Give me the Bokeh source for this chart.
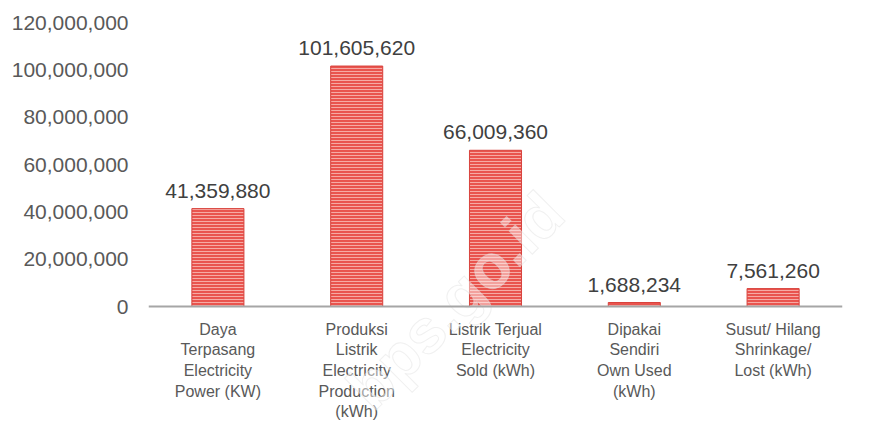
from bokeh.plotting import figure
from bokeh.models import ColumnDataSource, FixedTicker, NumeralTickFormatter, Range1d, FactorRange, Span
from bokeh.core.properties import value
from bokeh.embed import file_html
from bokeh.resources import INLINE

categories = [
    "Daya\nTerpasang\nElectricity\nPower (KW)",
    "Produksi\nListrik\nElectricity\nProduction\n(kWh)",
    "Listrik Terjual\nElectricity\nSold (kWh)",
    "Dipakai\nSendiri\nOwn Used\n(kWh)",
    "Susut/ Hilang\nShrinkage/\nLost (kWh)",
]
values = [41359880, 101605620, 66009360, 1688234, 7561260]
value_labels = ["41,359,880", "101,605,620", "66,009,360", "1,688,234", "7,561,260"]
y_ticks = [0, 20000000, 40000000, 60000000, 80000000, 100000000, 120000000]

Y_MAX = 120000000
PX_PER_UNIT = 284 / Y_MAX          # 284 px between 0 and 120,000,000
BELOW_PX = 115                     # room under the axis for the category labels
Y_MIN = -BELOW_PX / PX_PER_UNIT

src = ColumnDataSource(dict(cat=categories, val=values, lab=value_labels, zero=[0] * len(values)))

p = figure(frame_width=694, frame_height=284 + BELOW_PX,
           x_range=FactorRange(*categories, range_padding=0),
           y_range=Range1d(Y_MIN, Y_MAX), output_backend="svg", toolbar_location=None,
           min_border_left=148, min_border_right=37, min_border_top=22, min_border_bottom=0)
p.outline_line_color = None
p.grid.visible = False
p.background_fill_color = "white"
p.xaxis.visible = False

p.vbar(x="cat", top="val", width=0.375, source=src, fill_color="#e9544e",
       line_color="#d8433d", line_width=1, hatch_pattern="horizontal_line",
       hatch_color="#f6aaa4", hatch_scale=3, hatch_weight=1)

# baseline (category axis line)
p.add_layout(Span(location=0, dimension="width", line_color="#a6a6a6", line_width=2))

p.text(x="cat", y="val", text="lab", source=src, text_align="center", text_baseline="bottom",
       y_offset=-11, text_font=value("Liberation Sans"), text_font_size="21px", text_color="#404040")

# category labels below the baseline
p.text(x="cat", y="zero", text="cat", source=src, text_align="center", text_baseline="top",
       y_offset=14, text_font=value("Liberation Sans"), text_font_size="16px",
       text_color="#595959", text_line_height=1.22)

# faint watermark
p.text(x=[categories[2]], y=[0], text=["bps.go.id"], angle=0.785, text_align="center",
       text_baseline="middle", text_font=value("Liberation Sans"), text_font_style="bold",
       text_font_size="62px", text_color="#ffffff", text_alpha=0.45, x_offset=-40, y_offset=-6,
       text_outline_color="#dddddd")

p.yaxis.ticker = FixedTicker(ticks=y_ticks)
p.yaxis.formatter = NumeralTickFormatter(format="0,0")
p.yaxis.axis_line_color = None
p.yaxis.major_tick_line_color = None
p.yaxis.minor_tick_line_color = None
p.yaxis.major_tick_out = 0
p.yaxis.major_tick_in = 0
p.yaxis.major_label_standoff = 20
p.yaxis.major_label_text_font = "Liberation Sans"
p.yaxis.major_label_text_font_size = "21px"
p.yaxis.major_label_text_color = "#595959"

open("out.html", "w").write(file_html(p, INLINE))
